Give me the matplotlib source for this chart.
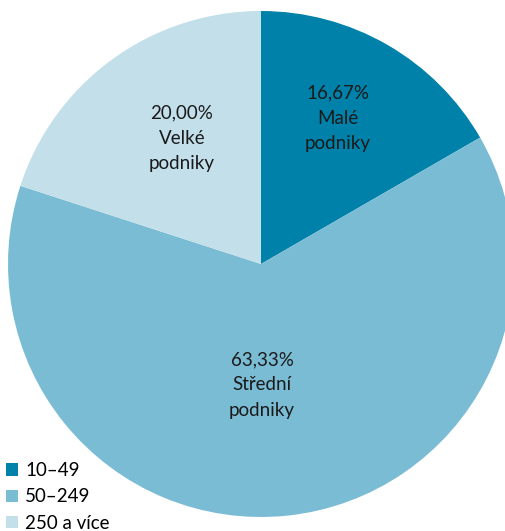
import matplotlib.pyplot as plt

labels = ["10–49", "50–249", "250 a více"]
shares = [16.67, 63.33, 20.00]
pct_text = ["16,67%", "63,33%", "20,00%"]
names = ["Malé\npodniky", "Střední\npodniky", "Velké\npodniky"]
colors = ["#0081A9", "#7BBCD5", "#C2DFEA"]

plt.rcParams["font.family"] = ["Lato", "DejaVu Sans"]

fig = plt.figure(figsize=(5.05, 5.31), dpi=100)
ax = fig.add_axes([0, 0, 1, 1])

wedges, _ = ax.pie(shares, colors=colors, startangle=90, counterclock=False,
                   center=(261, 267), radius=253, frame=True)
ax.set_xlim(0, 505)
ax.set_ylim(0, 531)
ax.set_aspect("equal")
ax.axis("off")

# label centres, in pixels from the bottom left
label_pos = [(338, 413), (262, 146), (182, 393)]
for (x, y), p, n in zip(label_pos, pct_text, names):
    ax.text(x, y, p + "\n" + n, ha="center", va="center", fontsize=13.5,
            linespacing=1.6, color="#1a1a1a")

ax.legend(wedges, labels, loc="lower left", bbox_to_anchor=(0.0, -0.012),
          frameon=False, fontsize=13.5, handlelength=0.65, handleheight=0.65,
          handletextpad=0.4, labelspacing=0.5, borderaxespad=0.0,
          borderpad=0.3)

fig.savefig("out.png", dpi=100)
